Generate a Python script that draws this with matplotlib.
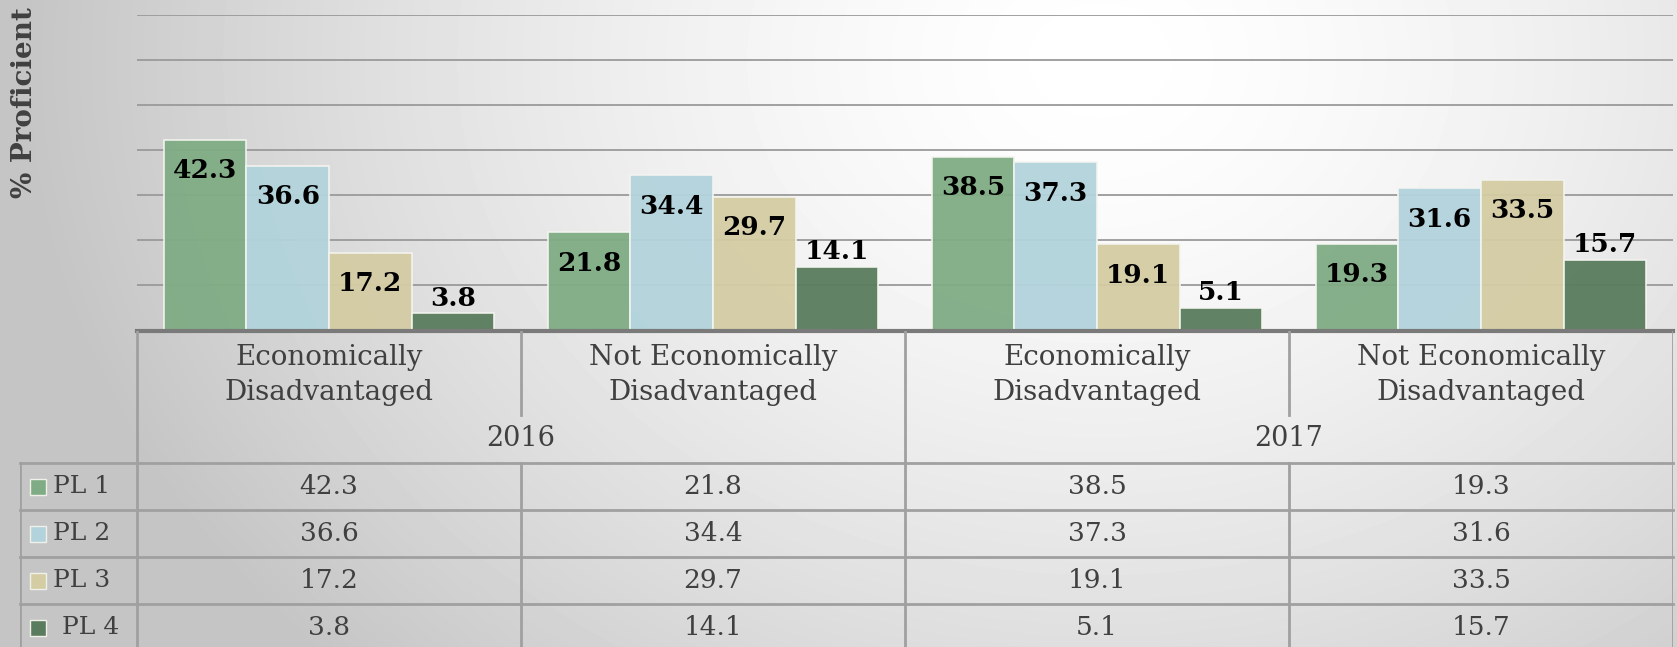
import numpy as np
import matplotlib.pyplot as plt

plt.rcParams['font.family'] = ['DejaVu Serif']

# data
groups = ["Economically\nDisadvantaged", "Not Economically\nDisadvantaged",
          "Economically\nDisadvantaged", "Not Economically\nDisadvantaged"]
years = ["2016", "2017"]
series = ["PL 1", "PL 2", "PL 3", "PL 4"]
pl1 = [42.3, 21.8, 38.5, 19.3]
pl2 = [36.6, 34.4, 37.3, 31.6]
pl3 = [17.2, 29.7, 19.1, 33.5]
pl4 = [3.8, 14.1, 5.1, 15.7]
values = [pl1, pl2, pl3, pl4]
colors = ['#7fac84', '#b2d3dc', '#d4cca3', '#5a7c5e']

W, H = 1677, 647
fig = plt.figure(figsize=(W / 100, H / 100), dpi=100)

def fx(px):
    return px / W

def fy(py):
    return 1 - py / H

# grey background with a light spot near the top centre
bg = fig.add_axes([0, 0, 1, 1])
bg.set_axis_off()
yy, xx = np.mgrid[0:H, 0:W]
r = np.hypot((xx - 1100) / 1.0, (yy - 60) / 0.8) / 1050
shade = np.clip(1 - 0.22 * r ** 1.5, 0.77, 1)
bg.imshow(shade, cmap='gray', vmin=0, vmax=1, extent=[0, W, H, 0], aspect='auto')

# bar area
x_left, x_right = 137, 1673
base, top = 330.5, 15
grp_px = (x_right - x_left) / 4
ax = fig.add_axes([fx(x_left), fy(base), fx(x_right) - fx(x_left), fy(top) - fy(base)])
ax.patch.set_alpha(0)
ax.set_xlim(-0.5, 3.5)
ax.set_ylim(0, 70)
for s in ax.spines.values():
    s.set_visible(False)
ax.set_xticks([])
ax.set_yticks([])
for g in range(10, 80, 10):
    ax.axhline(g, color='#9a9a9a', lw=1.3, zorder=1)

x = np.arange(len(groups))
bw = 0.215
for i, (vals, col) in enumerate(zip(values, colors)):
    bars = ax.bar(x + (i - 1.5) * bw, vals, bw, color=col, alpha=0.95,
                  edgecolor='#f4f4f0', linewidth=1.2, zorder=2)
    for b, v in zip(bars, vals):
        cx = b.get_x() + b.get_width() / 2
        # short bars get the label above, the rest inside near the top
        dy = 15 if v < 17 else -31
        ax.annotate(f"{v}", (cx, v), xytext=(0, dy), textcoords='offset pixels',
                    ha='center', va='center', fontsize=19, fontweight='bold',
                    color='black', zorder=4)

fig.text(fx(25), fy(103), "% Proficient", rotation=90, ha='center', va='center',
         fontsize=20, fontweight='bold', color='#404040')

# data table below the bars
leg_left = 20
tb = fig.add_axes([fx(leg_left), 0, fx(x_right) - fx(leg_left), fy(base)])
tb.patch.set_alpha(0)
tb.set_axis_off()
xl = -0.5 - (x_left - leg_left) / grp_px
tb.set_xlim(xl, 3.5)
tb.set_ylim(H, base)

lc = '#a0a0a0'
year_top, data_top, row_h = 415, 463, 47
bounds = np.arange(-0.5, 4, 1.0)
tb.plot([-0.5, 3.5], [base, base], color='#7a7a7a', lw=3, clip_on=False)
for k in range(len(series) + 1):
    yk = data_top + k * row_h
    tb.plot([xl, 3.5], [yk, yk], color=lc, lw=2, clip_on=False)
for bx in bounds:
    if bx in (0.5, 2.5):
        tb.plot([bx, bx], [base, year_top], color=lc, lw=2)
        tb.plot([bx, bx], [data_top, H], color=lc, lw=2)
    else:
        tb.plot([bx, bx], [base, H], color=lc, lw=2)
tb.plot([xl, xl], [data_top, H], color=lc, lw=2)

tc = '#404040'
for i, gname in enumerate(groups):
    tb.text(x[i], 375, gname, ha='center', va='center', fontsize=20,
            color=tc, linespacing=1.4)
for j, yr in enumerate(years):
    tb.text(2 * j + 0.5, 438, yr, ha='center', va='center', fontsize=19.5, color=tc)

px_unit = 1 / grp_px
for k, (name, vals, col) in enumerate(zip(series, values, colors)):
    yc = data_top + (k + 0.5) * row_h
    tb.plot([-0.5 + (38 - x_left) * px_unit], [yc], marker='s', markersize=12,
            color=col, markeredgecolor='#f0f0ea', markeredgewidth=1)
    nx = 62 if k == 3 else 53
    tb.text(-0.5 + (nx - x_left) * px_unit, yc, name, ha='left', va='center',
            fontsize=18, color=tc)
    for i, v in enumerate(vals):
        tb.text(x[i], yc, f"{v}", ha='center', va='center', fontsize=19, color=tc)

fig.savefig('out.png', dpi=100)
